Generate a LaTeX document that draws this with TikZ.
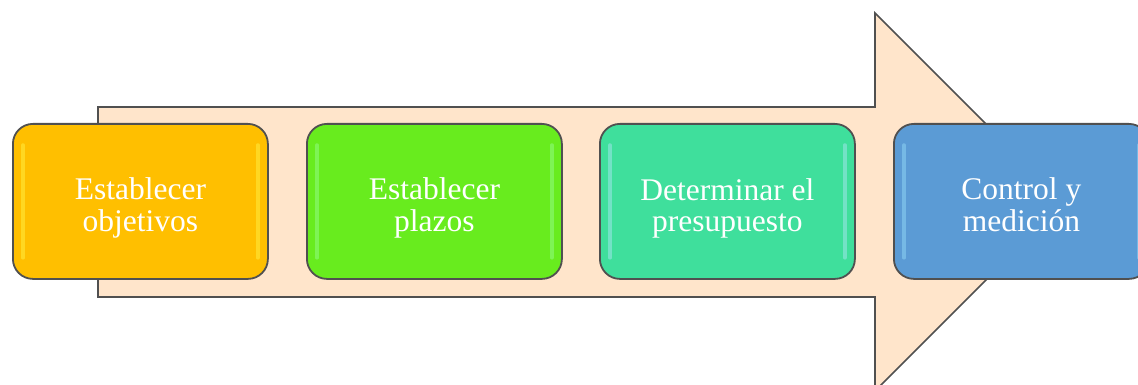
\documentclass[tikz,border=0pt]{standalone}
\usepackage{fontspec}
\setmainfont{Liberation Serif}
\begin{document}
\begin{tikzpicture}[x=1pt,y=-1pt,
  bigarrow/.style={fill=arrowfill,draw=edgegray,line width=1.6pt,line join=miter},
  stepbox/.style={rounded corners=20pt,draw=edgegray,line width=1.8pt,minimum width=255pt,minimum height=155pt,inner sep=0pt,anchor=north west},
  steplabel/.style={text=white,align=center,font=\fontsize{31.5}{31}\selectfont,inner sep=0pt},
  shine/.style={line width=3.5pt,line cap=round,opacity=0.45}]
\definecolor{arrowfill}{HTML}{FFE5CB}
\definecolor{edgegray}{HTML}{505050}
\definecolor{cA}{HTML}{FFBF00}
\definecolor{cB}{HTML}{68EC1E}
\definecolor{cC}{HTML}{3FDF9C}
\definecolor{cD}{HTML}{5B9BD5}
\useasboundingbox (0,0) rectangle (1138,385);
\clip (0,0) rectangle (1138,385);
\fill[white] (0,0) rectangle (1138,385);
\draw[bigarrow] (98,107) -- (875,107) -- (875,13) -- (1064,202) -- (875,391) -- (875,297) -- (98,297) -- cycle;
\node[stepbox,fill=cA] (b1) at (12,123) {};
\node[stepbox,fill=cB] (b2) at (306,123) {};
\node[stepbox,fill=cC] (b3) at (599,123) {};
\node[stepbox,fill=cD] (b4) at (893,123) {};
\foreach \b/\c in {b1/yellow!70!white,b2/green!40!white,b3/cyan!30!white,b4/cyan!40!white}{
  \draw[shine,draw=\c] ([xshift=11pt,yshift=-22pt]\b.north west) -- ([xshift=11pt,yshift=22pt]\b.south west);
  \draw[shine,draw=\c] ([xshift=-11pt,yshift=-22pt]\b.north east) -- ([xshift=-11pt,yshift=22pt]\b.south east);
}
\node[steplabel] (l1) at ([yshift=-8pt]b1.center) {\strut Establecer\\\strut objetivos};
\node[steplabel] (l2) at ([yshift=-8pt]b2.center) {\strut Establecer\\\strut plazos};
\node[steplabel] (l3) at ([yshift=-8pt]b3.center) {\strut Determinar el\\\strut presupuesto};
\node[steplabel] (l4) at ([yshift=-8pt]b4.center) {\strut Control y\\\strut medición};
\end{tikzpicture}
\end{document}
